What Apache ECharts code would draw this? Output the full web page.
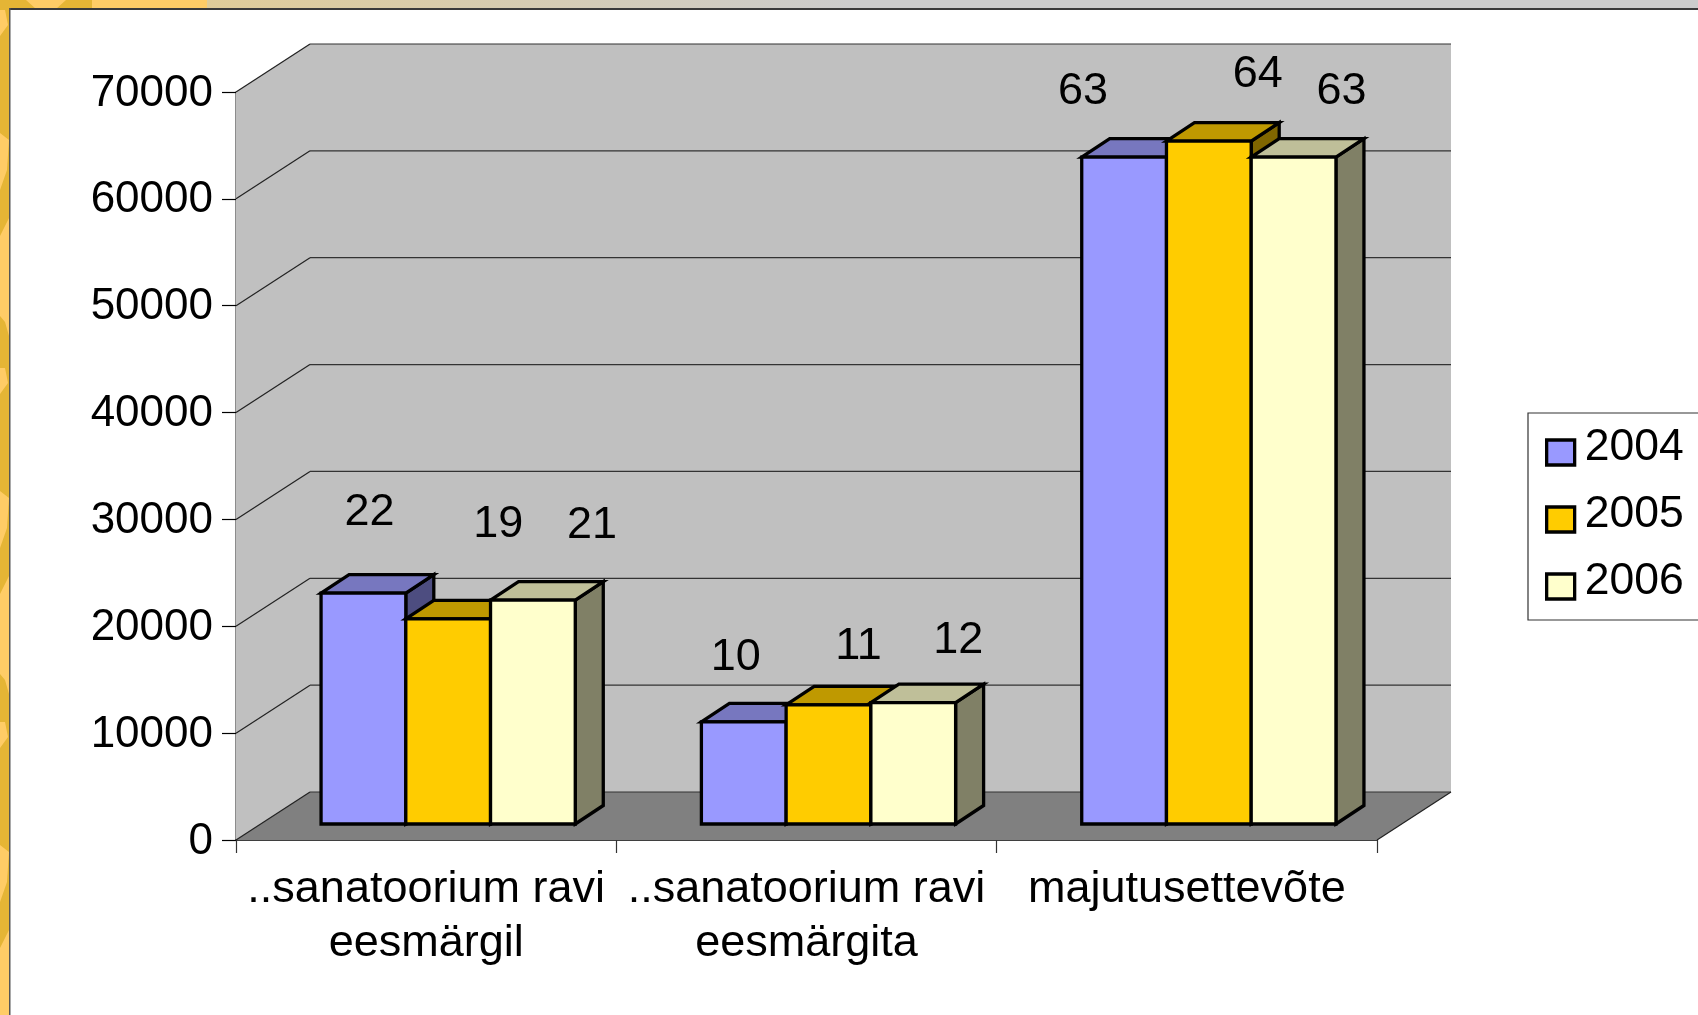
<!DOCTYPE html>
<html><head><meta charset="utf-8">
<style>html,body{margin:0;padding:0;background:#fff}#c{width:1698px;height:1015px}</style>
<script src="https://cdn.jsdelivr.net/npm/echarts@6/dist/echarts.min.js"></script>
</head><body><div id="c"></div>
<script>
const categories = ['..sanatoorium ravi\neesmärgil', '..sanatoorium ravi\neesmärgita', 'majutusettevõte'];
const seriesNames = ['2004', '2005', '2006'];
const values2004 = [21600, 9550, 62400];
const values2005 = [19200, 11150, 63900];
const values2006 = [20950, 11350, 62400];
const labels2004 = ['22', '10', '63'];
const labels2005 = ['19', '11', '64'];
const labels2006 = ['21', '12', '63'];
const yTicks = [0, 10000, 20000, 30000, 40000, 50000, 60000, 70000];

// label displacement from the top centre of each bar's front face
const labelShift2004 = [[6, -81], [-8, -64], [-41, -66]];
const labelShift2005 = [[50, -94], [30, -58], [49, -67]];
const labelShift2006 = [[59, -75], [45, -62], [48, -66]];

const FONT = '"Liberation Sans", Arial, sans-serif';
const FS = 45;
const DEPTH_X = 74, DEPTH_Y = 48;      // wall depth
const FLOOR_X = 22, FLOOR_Y = 16;      // bar set-back from the front plane
const BAR_DX = 28, BAR_DY = 18.5;      // bar depth
const BAR_RATIO = 0.2228;
const looks = [
  {front: '#9999FF', top: '#7777BF', side: '#4D4D80'},
  {front: '#FFCC00', top: '#BF9900', side: '#806600'},
  {front: '#FFFFCC', top: '#BFBF99', side: '#808066'}
];
const allValues = [values2004, values2005, values2006];
const allLabels = [labels2004, labels2005, labels2006];
const allShifts = [labelShift2004, labelShift2005, labelShift2006];

function wallsItem(params, api) {
  const cs = params.coordSys;
  const L = cs.x, R = cs.x + cs.width;
  const y0 = api.coord([0, 0])[1];
  const yTop = api.coord([0, yTicks[yTicks.length - 1]])[1];
  const ch = [];
  const poly = (pts, fill) => ch.push({type: 'polygon', shape: {points: pts}, style: {fill: fill}});
  const line = (a, b, c, lw) => ch.push({type: 'line', shape: {x1: a[0], y1: a[1], x2: b[0], y2: b[1]},
    style: {stroke: c, lineWidth: lw}});
  poly([[L, y0], [L + DEPTH_X, y0 - DEPTH_Y], [L + DEPTH_X, yTop - DEPTH_Y], [L, yTop]], '#C0C0C0');
  poly([[L + DEPTH_X, y0 - DEPTH_Y], [R + DEPTH_X, y0 - DEPTH_Y], [R + DEPTH_X, yTop - DEPTH_Y], [L + DEPTH_X, yTop - DEPTH_Y]], '#C0C0C0');
  poly([[L, y0], [R, y0], [R + DEPTH_X, y0 - DEPTH_Y], [L + DEPTH_X, y0 - DEPTH_Y]], '#808080');
  yTicks.forEach(v => {
    const y = api.coord([0, v])[1];
    line([L, y], [L + DEPTH_X, y - DEPTH_Y], '#222', 1.2);
    line([L + DEPTH_X, y - DEPTH_Y], [R + DEPTH_X, y - DEPTH_Y], '#333', 1.2);
  });
  line([R, y0], [R + DEPTH_X, y0 - DEPTH_Y], '#222', 1.2);
  return {type: 'group', children: ch};
}

function barItem(si) {
  return function (params, api) {
    const cat = api.value(0), val = api.value(1);
    const base = api.coord([cat, 0]), top = api.coord([cat, val]);
    const band = api.size([1, 0])[0], w = band * BAR_RATIO;
    const x0 = base[0] + FLOOR_X + (si - 1.5) * w, x1 = x0 + w;
    const yb = base[1] - FLOOR_Y, yt = top[1] - FLOOR_Y;
    const look = looks[si];
    const st = f => ({fill: f, stroke: '#000', lineWidth: 3.3, lineJoin: 'miter', miterLimit: 10});
    const shift = allShifts[si][params.dataIndex];
    return {type: 'group', children: [
      {type: 'polygon', shape: {points: [[x1, yb], [x1 + BAR_DX, yb - BAR_DY], [x1 + BAR_DX, yt - BAR_DY], [x1, yt]]}, style: st(look.side)},
      {type: 'polygon', shape: {points: [[x0, yt], [x1, yt], [x1 + BAR_DX, yt - BAR_DY], [x0 + BAR_DX, yt - BAR_DY]]}, style: st(look.top)},
      {type: 'polygon', shape: {points: [[x0, yb], [x1, yb], [x1, yt], [x0, yt]]}, style: st(look.front)},
      {type: 'text', z2: 50, style: {text: allLabels[si][params.dataIndex], x: (x0 + x1) / 2 + shift[0], y: yt + shift[1],
        fill: '#000', font: FS + 'px ' + FONT, align: 'center', verticalAlign: 'middle'}}
    ]};
  };
}

// slide frame decoration
const gold = '#E5B535', light = '#FFCC66';
const tileShapes = [
  [[0, 10], [5, 10], [8, 25], [0, 36]],
  [[0, 133], [9, 140], [7, 170], [0, 190]],
  [[9, 218], [0, 236], [0, 316], [5, 322], [9, 336]]
];
const frame = [
  {type: 'rect', shape: {x: 0, y: 0, width: 10, height: 1015}, style: {fill: gold}, silent: true},
  {type: 'rect', shape: {x: 0, y: 0, width: 92, height: 9}, style: {fill: gold}, silent: true},
  {type: 'polygon', shape: {points: [[26, 0], [66, 0], [56, 9], [36, 9]]}, style: {fill: light}, silent: true},
  {type: 'rect', shape: {x: 92, y: 0, width: 115, height: 9}, style: {fill: light}, silent: true},
  {type: 'rect', shape: {x: 207, y: 0, width: 1491, height: 9},
    style: {fill: {type: 'linear', x: 0, y: 0, x2: 1, y2: 0, colorStops: [
      {offset: 0, color: '#E0CC99'}, {offset: 0.43, color: '#CCCCCC'}, {offset: 1, color: '#CCCCCC'}]}}, silent: true}
];
[0, 358, 712].forEach(off => tileShapes.forEach(p => frame.push({type: 'polygon', silent: true,
  shape: {points: p.map(q => [q[0], q[1] + off])}, style: {fill: light}})));
frame.push({type: 'rect', shape: {x: 9, y: 8, width: 1689, height: 2}, style: {fill: '#3A3A3A'}, silent: true});
frame.push({type: 'rect', shape: {x: 9, y: 8, width: 1.5, height: 1007}, style: {fill: '#555555'}, silent: true});

const chart = echarts.init(document.getElementById('c'), null, {renderer: 'canvas'});
chart.setOption({
  animation: false,
  backgroundColor: '#fff',
  graphic: {elements: frame},
  grid: {left: 236, right: 321, top: 92, bottom: 175, containLabel: false},
  legend: {
    left: 1528, top: 413, orient: 'vertical', icon: 'rect', selectedMode: false,
    itemWidth: 28, itemHeight: 25, itemGap: 22,
    padding: [12, 16, 16, 17],
    backgroundColor: '#fff', borderColor: '#333', borderWidth: 1.2,
    formatter: '{a|{name}}',
    textStyle: {fontFamily: FONT, fontSize: 44.5, color: '#000',
      rich: {a: {fontFamily: FONT, fontSize: 44.5, color: '#000', padding: [0, 0, 10, 5]}}},
    data: seriesNames.map((n, i) => ({name: n, itemStyle: {color: looks[i].front, borderColor: '#000', borderWidth: 3.3}}))
  },
  xAxis: {
    type: 'category', data: categories, boundaryGap: true,
    axisLine: {show: true, lineStyle: {color: '#000', width: 1.5}},
    axisTick: {show: true, length: 13, alignWithLabel: false, lineStyle: {color: '#333', width: 1.2}},
    axisLabel: {interval: 0, margin: 23, fontFamily: FONT, fontSize: FS, color: '#000', lineHeight: 54, hideOverlap: false},
    splitLine: {show: false}
  },
  yAxis: {
    type: 'value', min: 0, max: 70000, interval: 10000,
    axisLine: {show: true, lineStyle: {color: '#666', width: 1.5}},
    axisTick: {show: true, length: 14, lineStyle: {color: '#000', width: 1.2}},
    axisLabel: {margin: 23, color: '#000', formatter: v => '{a|' + v + '}',
      rich: {a: {fontFamily: FONT, fontSize: 44, color: '#000', padding: [3, 0, 0, 0]}}},
    splitLine: {show: false}
  },
  series: [
    {type: 'custom', name: 'walls', renderItem: wallsItem, data: [[0, 0]], z: 1, silent: true, clip: false, tooltip: {show: false}}
  ].concat(seriesNames.map((n, i) => ({
    type: 'custom', name: n, z: 3 + i, clip: false,
    renderItem: barItem(i),
    encode: {x: 0, y: 1},
    itemStyle: {color: looks[i].front, borderColor: '#000', borderWidth: 3.3},
    data: allValues[i].map((v, k) => [k, v])
  })))
});
</script></body></html>
